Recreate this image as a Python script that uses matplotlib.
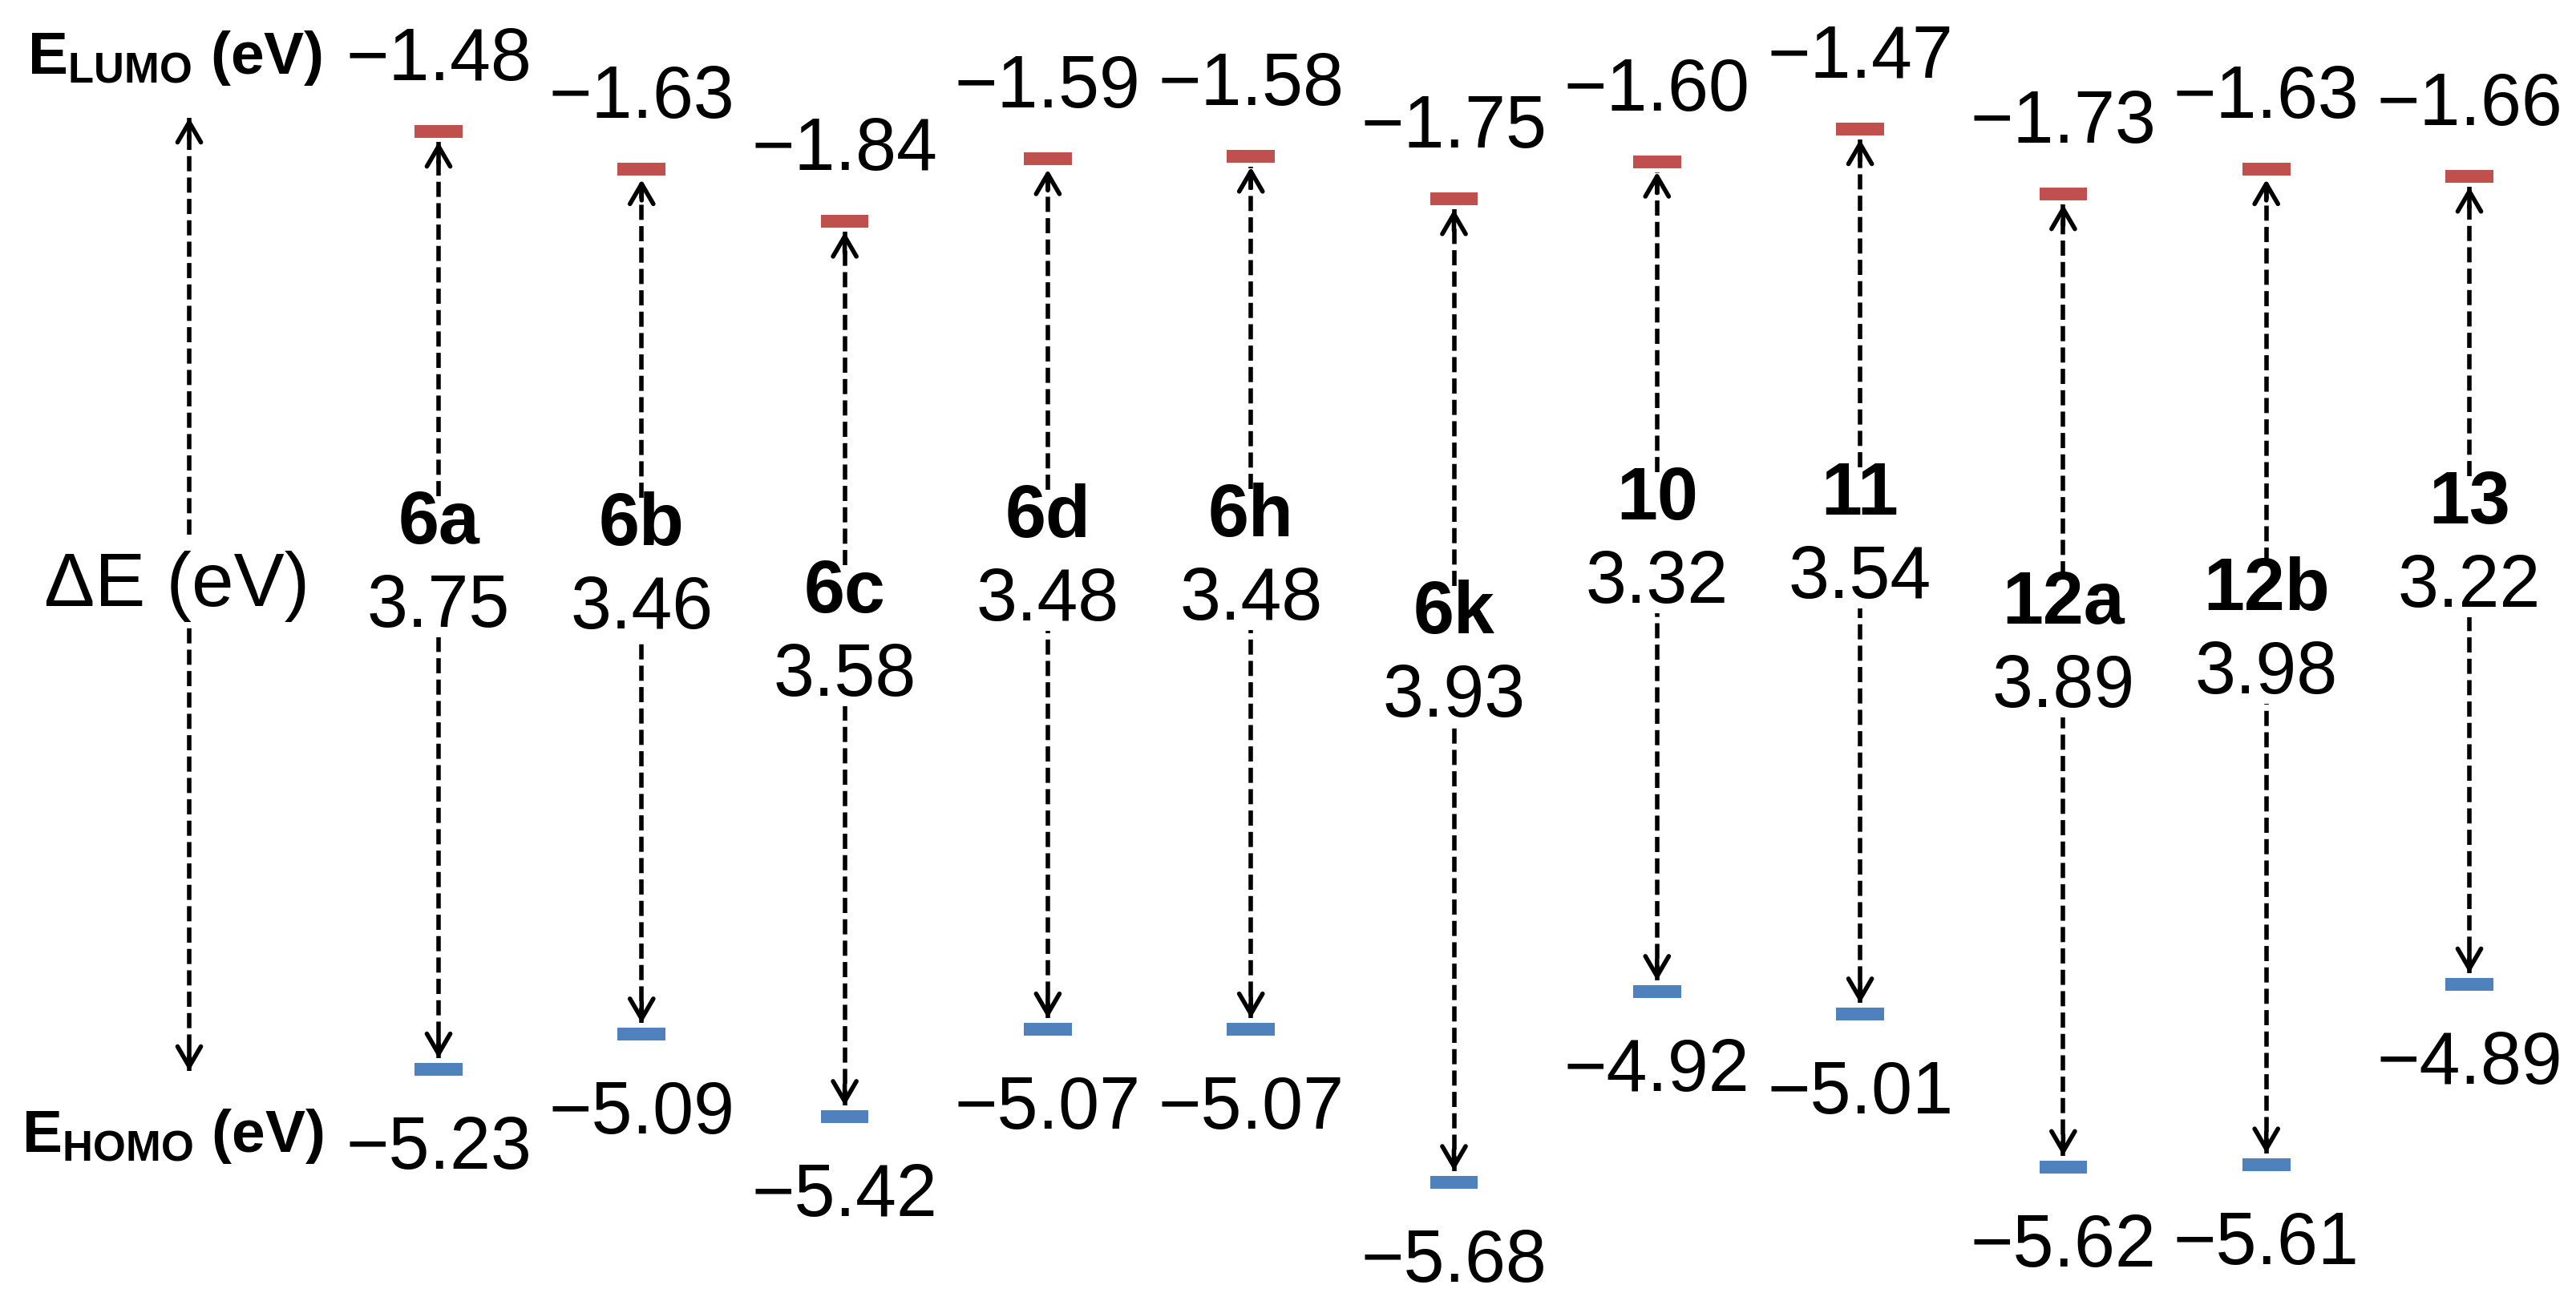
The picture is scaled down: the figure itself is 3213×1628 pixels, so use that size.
import matplotlib
matplotlib.use('Agg')
import matplotlib.pyplot as plt

# compounds and their frontier orbital energies (eV)
names = ['6a', '6b', '6c', '6d', '6h', '6k', '10', '11', '12a', '12b', '13']
lumo = [-1.48, -1.63, -1.84, -1.59, -1.58, -1.75, -1.60, -1.47, -1.73, -1.63, -1.66]
homo = [-5.23, -5.09, -5.42, -5.07, -5.07, -5.68, -4.92, -5.01, -5.62, -5.61, -4.89]
gap = [3.75, 3.46, 3.58, 3.48, 3.48, 3.93, 3.32, 3.54, 3.89, 3.98, 3.22]

plt.rcParams['font.family'] = 'Liberation Sans'
plt.rcParams['mathtext.fontset'] = 'custom'
plt.rcParams['mathtext.rm'] = 'Liberation Sans'
plt.rcParams['mathtext.bf'] = 'Liberation Sans:bold'

W, H, DPI = 3213, 1628, 100
PX_EV = 312.0      # pixels per eV
Y_TOP = -0.954     # energy at the top edge
X0, X_STEP = 547.0, 253.3

RED = '#C0504D'
BLUE = '#4F81BD'
FS = 66
LW = 4.0


def dy(px):
    return px / PX_EV


def ey(px_from_top):
    return Y_TOP - px_from_top / PX_EV


fig = plt.figure(figsize=(W / DPI, H / DPI), dpi=DPI)
ax = fig.add_axes([0, 0, 1, 1])
ax.set_xlim(-X0 / X_STEP, (W - X0) / X_STEP)
ax.set_ylim(Y_TOP - H / PX_EV, Y_TOP)
ax.axis('off')

head = dict(arrowstyle='->, head_length=1.8, head_width=1.05', lw=LW, color='black',
            shrinkA=0, shrinkB=0, mutation_scale=10)


def dashed_arrow(x, y_low, y_high, gap_low, gap_high):
    ax.plot([x, x], [y_low, gap_low], color='black', lw=LW, dashes=(3.4, 1.4), solid_capstyle='butt')
    ax.plot([x, x], [gap_high, y_high], color='black', lw=LW, dashes=(3.4, 1.4), solid_capstyle='butt')
    ax.annotate('', xy=(x, y_low), xytext=(x, y_low + dy(26)), arrowprops=head)
    ax.annotate('', xy=(x, y_high), xytext=(x, y_high - dy(26)), arrowprops=head)


for i in range(len(names)):
    yl, yh = lumo[i], homo[i]
    ax.hlines(yl, i - 0.118, i + 0.118, color=RED, lw=11.5)
    ax.hlines(yh, i - 0.118, i + 0.118, color=BLUE, lw=11.5)

    ax.text(i, yl + dy(64), '\u2212%.2f' % abs(yl), fontsize=FS, ha='center', va='baseline')
    ax.text(i, yh - dy(124), '\u2212%.2f' % abs(yh), fontsize=FS, ha='center', va='baseline')

    mid = (yl + yh) / 2
    val_base = mid - dy(33)
    name_base = val_base + dy(104)
    ax.text(i, val_base, '%.2f' % gap[i], fontsize=FS, ha='center', va='baseline')
    ax.text(i, name_base, names[i], fontsize=FS, fontweight='bold', ha='center', va='baseline')

    dashed_arrow(i, yh + dy(14), yl - dy(13), val_base - dy(13), name_base + dy(47 + 12))

# left-hand axis arrow and labels
xa = (236 - X0) / X_STEP
dashed_arrow(xa, ey(1336), ey(147), ey(778), ey(667))
ax.text((221 - X0) / X_STEP, ey(756), '\u0394E (eV)', fontsize=FS + 2, ha='center', va='baseline')
ax.text(34 / X_STEP - X0 / X_STEP, ey(92), r'$\mathbf{E_{LUMO}}$ (eV)', fontsize=54,
        fontweight='bold', ha='left', va='baseline')
ax.text(27 / X_STEP - X0 / X_STEP, ey(1437), r'$\mathbf{E_{HOMO}}$ (eV)', fontsize=54,
        fontweight='bold', ha='left', va='baseline')

fig.savefig('out.png', dpi=DPI, facecolor='white')
